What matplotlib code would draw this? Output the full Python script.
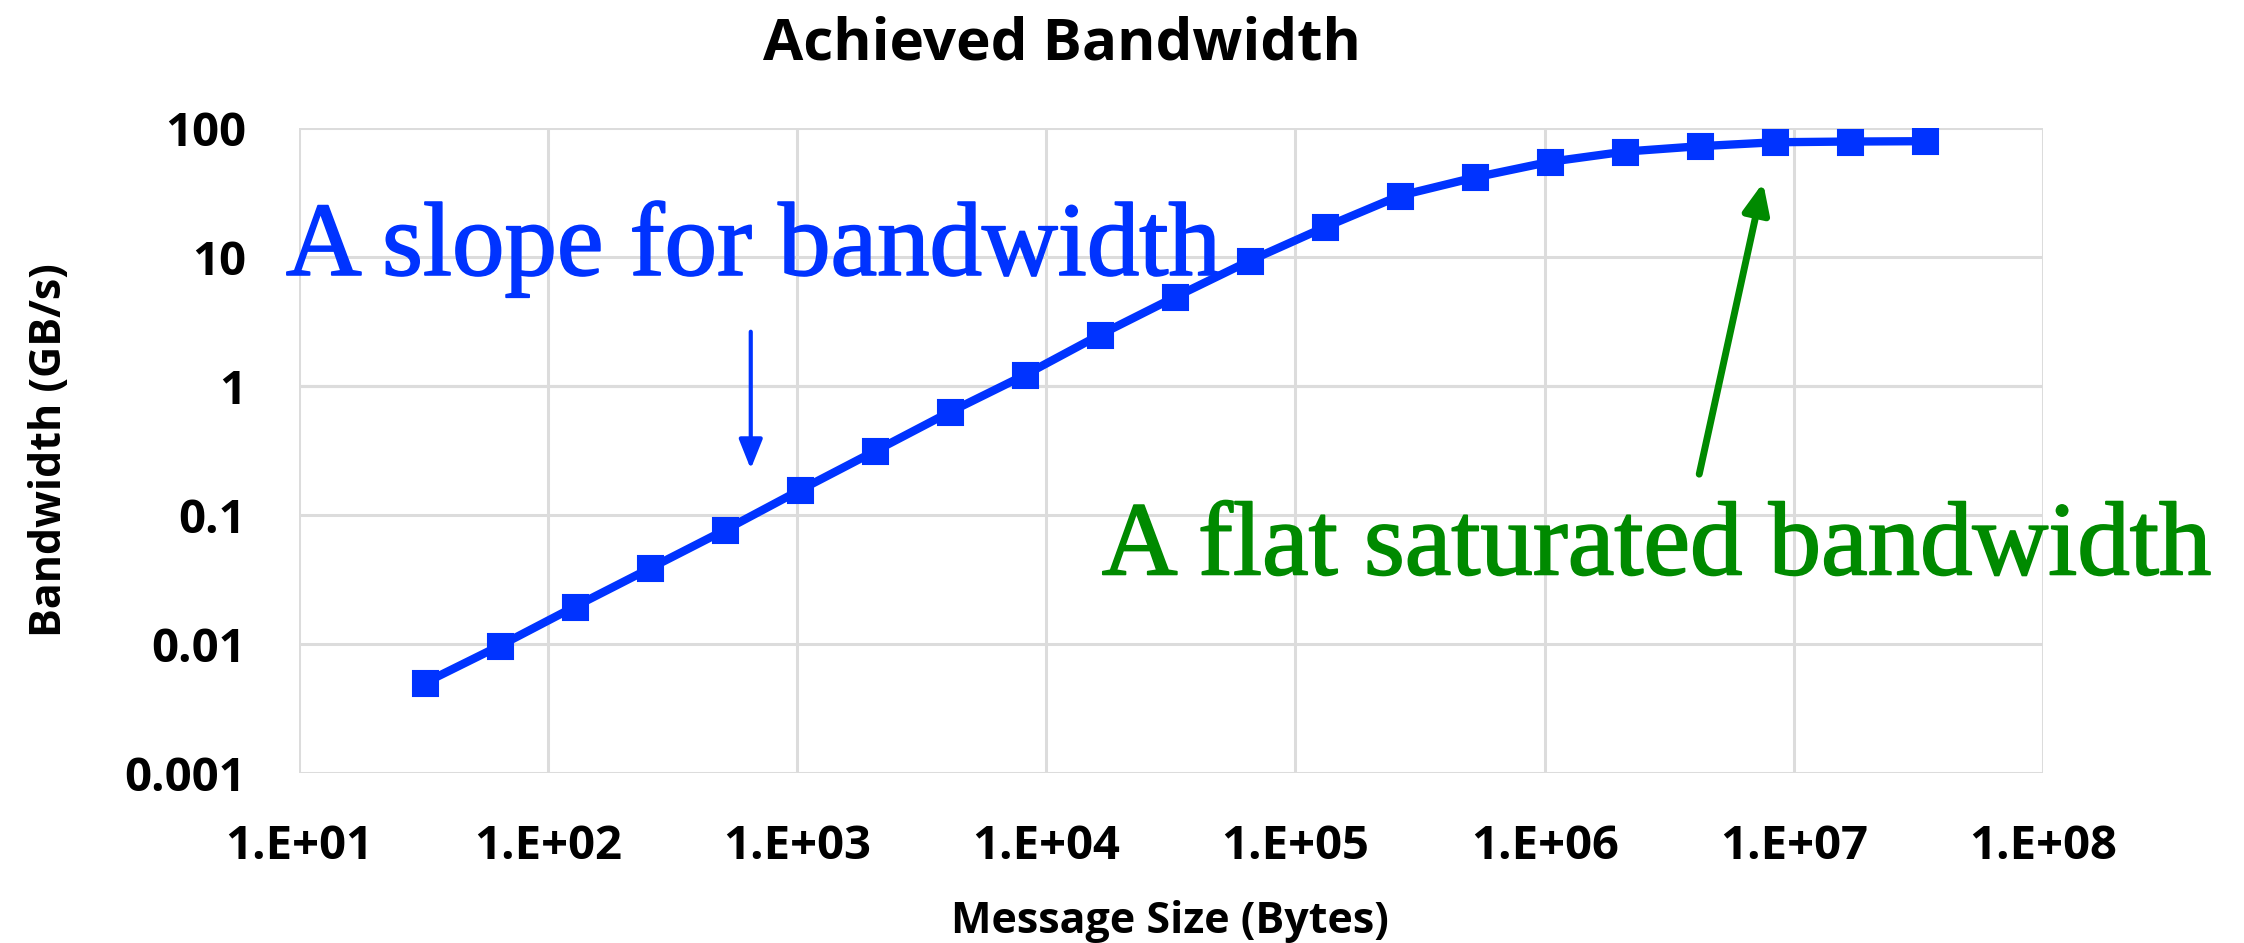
import matplotlib.pyplot as plt
import matplotlib.patheffects as pe
import numpy as np

# message sizes 32 B .. 32 MB
msg_size = [32, 64, 128, 256, 512, 1024, 2048, 4096, 8192, 16384, 32768,
            65536, 131072, 262144, 524288, 1048576, 2097152, 4194304,
            8388608, 16777216, 33554432]
bandwidth = [0.005, 0.0097, 0.0195, 0.0386, 0.0765, 0.156, 0.313, 0.63,
             1.22, 2.5, 4.9, 9.4, 17.1, 30, 41.6, 55, 66, 72.7, 78, 79, 79.5]

x_ticks = [1e1, 1e2, 1e3, 1e4, 1e5, 1e6, 1e7, 1e8]
x_labels = ["1.E+01", "1.E+02", "1.E+03", "1.E+04", "1.E+05", "1.E+06", "1.E+07", "1.E+08"]
y_ticks = [0.001, 0.01, 0.1, 1, 10, 100]
y_labels = ["0.001", "0.01", "0.1", "1", "10", "100"]

blue = "#0033ff"
green = "#008a00"
sans = ["Open Sans", "DejaVu Sans"]

fig = plt.figure(figsize=(22.44, 9.43), dpi=100)
ax = fig.add_axes([0.1332, 0.1803, 0.7772, 0.6836])

ax.set_xscale("log")
ax.set_yscale("log")
ax.set_xlim(1e1, 1e8)
ax.set_ylim(1e-3, 1e2)

ax.plot(msg_size, bandwidth, color=blue, lw=6, marker="s", markersize=18,
        markeredgewidth=1.5, solid_joinstyle="round", zorder=3)

ax.set_xticks(x_ticks)
ax.set_xticklabels(x_labels)
ax.set_yticks(y_ticks)
ax.set_yticklabels(y_labels)
ax.minorticks_off()
ax.tick_params(length=0)
ax.tick_params(axis="y", pad=38)
ax.tick_params(axis="x", pad=36)
for lab in ax.get_xticklabels() + ax.get_yticklabels():
    lab.set_fontfamily(sans)
    lab.set_fontweight("bold")
    lab.set_fontsize(34)

for s in ax.spines.values():
    s.set_visible(False)
ax.grid(True, color="#dcdcdc", lw=2.2, zorder=0)
ax.axhline(1, color="#c8c8c8", lw=2.2, zorder=1)

fig.text(1062 / 2244, 1 - 59 / 943, "Achieved Bandwidth", family=sans, fontweight="bold",
         fontsize=42, ha="center", va="baseline")
fig.text(1170 / 2244, 1 - 933 / 943, "Message Size (Bytes)", family=sans, fontweight="bold",
         fontsize=31, ha="center", va="baseline")
fig.text(50 / 2244, 1 - 450 / 943, "Bandwidth (GB/s)", family=sans, fontweight="bold",
         fontsize=31, rotation=90, ha="center", va="center")

thick = [pe.withStroke(linewidth=1.3, foreground=blue)]
ax.text(8.87, 7.3, "A slope for bandwidth", color=blue, family="Liberation Serif",
        fontsize=75.5, ha="left", va="baseline", zorder=4, path_effects=thick)
thick_g = [pe.withStroke(linewidth=1.3, foreground=green)]
ax.text(16700, 0.0347, "A flat saturated bandwidth", color=green, family="Liberation Serif",
        fontsize=75.5, ha="left", va="baseline", zorder=4, path_effects=thick_g)

ax.annotate("", xy=(651, 0.217), xytext=(651, 2.78),
            arrowprops=dict(arrowstyle="-|>,head_length=0.5,head_width=0.2",
                            color=blue, lw=3, mutation_scale=36))
ax.annotate("", xy=(7.57e6, 39.8), xytext=(4.15e6, 0.198),
            arrowprops=dict(arrowstyle="-|>,head_length=0.5,head_width=0.22",
                            color=green, lw=5, mutation_scale=36))

fig.savefig("out.png", dpi=100)
